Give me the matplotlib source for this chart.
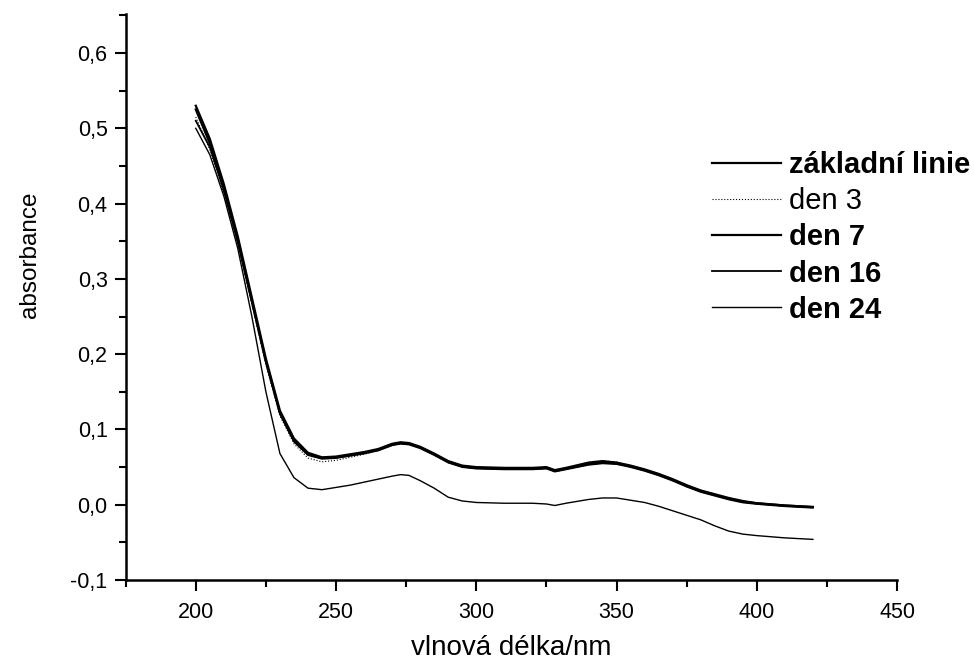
"""
UV spectra of the sample over time (absorbance vs. wavelength).
"""

import matplotlib.pyplot as plt
from matplotlib.ticker import FuncFormatter, MultipleLocator

wavelength = [200, 205, 210, 215, 220, 225, 230, 235, 240, 245, 250, 255, 260, 265,
              270, 273, 276, 280, 285, 290, 295, 300, 310, 320, 325, 328, 332, 340,
              345, 350, 355, 360, 365, 370, 375, 380, 385, 390, 395, 400, 410, 420]

zakladni = [0.525, 0.480, 0.420, 0.350, 0.270, 0.190, 0.122, 0.085, 0.067, 0.062,
            0.063, 0.066, 0.069, 0.073, 0.080, 0.082, 0.081, 0.076, 0.067, 0.057,
            0.051, 0.049, 0.048, 0.048, 0.049, 0.045, 0.048, 0.054, 0.056, 0.055,
            0.051, 0.046, 0.040, 0.033, 0.025, 0.018, 0.013, 0.008, 0.004, 0.002,
            -0.001, -0.003]
den3 = [0.515, 0.472, 0.414, 0.346, 0.266, 0.186, 0.118, 0.081, 0.062, 0.057,
        0.059, 0.063, 0.067, 0.072, 0.079, 0.081, 0.080, 0.075, 0.066, 0.056,
        0.050, 0.048, 0.047, 0.047, 0.048, 0.044, 0.047, 0.055, 0.058, 0.057,
        0.052, 0.047, 0.041, 0.034, 0.026, 0.019, 0.013, 0.008, 0.004, 0.001,
        -0.002, -0.004]
den7 = [0.530, 0.486, 0.426, 0.356, 0.275, 0.194, 0.125, 0.088, 0.069, 0.063,
        0.064, 0.067, 0.070, 0.074, 0.081, 0.083, 0.082, 0.077, 0.068, 0.058,
        0.052, 0.050, 0.049, 0.049, 0.050, 0.046, 0.049, 0.056, 0.058, 0.056,
        0.052, 0.047, 0.041, 0.034, 0.026, 0.019, 0.014, 0.009, 0.005, 0.002,
        -0.001, -0.003]
den16 = [0.510, 0.475, 0.418, 0.350, 0.270, 0.190, 0.121, 0.084, 0.066, 0.061,
         0.062, 0.065, 0.068, 0.072, 0.079, 0.081, 0.080, 0.075, 0.066, 0.056,
         0.050, 0.048, 0.047, 0.047, 0.048, 0.044, 0.047, 0.053, 0.055, 0.054,
         0.050, 0.045, 0.039, 0.032, 0.024, 0.017, 0.012, 0.007, 0.003, 0.001,
         -0.002, -0.004]
den24 = [0.500, 0.465, 0.410, 0.340, 0.250, 0.150, 0.068, 0.036, 0.022, 0.020,
         0.023, 0.026, 0.030, 0.034, 0.038, 0.040, 0.039, 0.032, 0.022, 0.010,
         0.005, 0.003, 0.002, 0.002, 0.001, -0.001, 0.002, 0.007, 0.009, 0.009,
         0.006, 0.003, -0.002, -0.008, -0.014, -0.020, -0.028, -0.035, -0.039,
         -0.041, -0.044, -0.046]

plt.rcParams["font.family"] = ["Liberation Sans", "DejaVu Sans"]

fig = plt.figure(figsize=(9.74, 6.61), dpi=100)
ax = fig.add_axes([0.129, 0.1225, 0.792, 0.8565])

ax.plot(wavelength, zakladni, color="black", lw=1.6, label="základní linie")
ax.plot(wavelength, den3, color="black", lw=0.8, ls=":", label="den 3")
ax.plot(wavelength, den7, color="black", lw=1.6, label="den 7")
ax.plot(wavelength, den16, color="black", lw=1.3, label="den 16")
ax.plot(wavelength, den24, color="black", lw=1.0, label="den 24")

ax.set_xlim(175, 450)
ax.set_ylim(-0.1, 0.652)
ax.xaxis.set_major_locator(MultipleLocator(50))
ax.xaxis.set_minor_locator(MultipleLocator(25))
ax.yaxis.set_major_locator(MultipleLocator(0.1))
ax.yaxis.set_minor_locator(MultipleLocator(0.05))
ax.yaxis.set_major_formatter(FuncFormatter(lambda v, p: f"{v:.1f}".replace(".", ",").replace("\u2212", "-")))

for side in ("top", "right"):
    ax.spines[side].set_visible(False)
for side in ("left", "bottom"):
    ax.spines[side].set_linewidth(1.8)

ax.tick_params(which="major", direction="out", length=8, width=1.5, labelsize=15.5, pad=5)
ax.tick_params(axis="x", which="major", pad=8)
ax.tick_params(which="minor", direction="out", length=5, width=1.5)

ax.set_xlabel("vlnová délka/nm", fontsize=20)
ax.xaxis.set_label_coords(0.5, -0.097)
ax.set_ylabel("absorbance", fontsize=17.5)
ax.yaxis.set_label_coords(-0.11, 0.575)

leg = ax.legend(loc="upper left", bbox_to_anchor=(712 / 974, 1 - 151 / 661),
                bbox_transform=fig.transFigure, frameon=False, fontsize=21,
                handlelength=2.35, handletextpad=0.28, labelspacing=0.28,
                borderaxespad=0, borderpad=0)
for txt in leg.get_texts():
    if txt.get_text() != "den 3":
        txt.set_fontweight("bold")

fig.savefig("out.png", dpi=100)
